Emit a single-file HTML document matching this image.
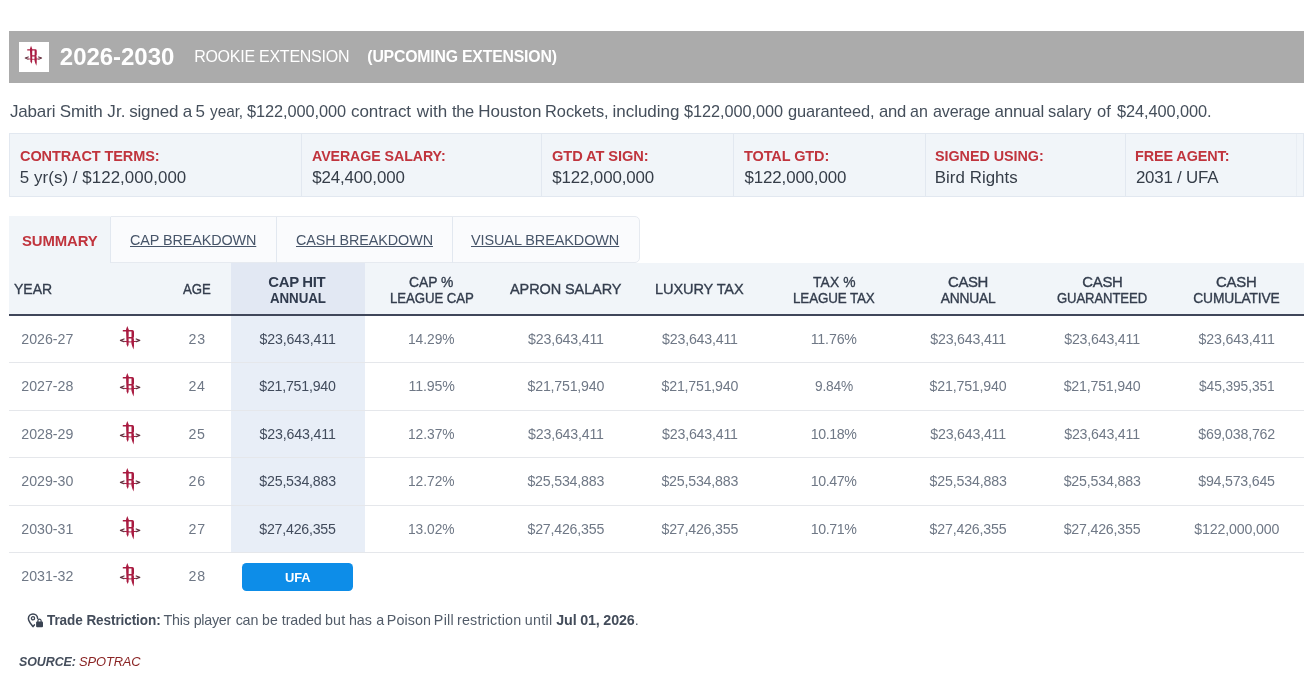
<!DOCTYPE html>
<html lang="en"><head><meta charset="utf-8"><title>Jabari Smith Jr. Contract Details</title>
<style>
*{box-sizing:border-box;margin:0;padding:0}
html,body{width:1314px;height:688px;background:#fff;overflow:hidden}
body{font-family:"Liberation Sans",sans-serif;position:relative}
.t{position:absolute;white-space:nowrap;line-height:1;transform-origin:0 0}
.a{position:absolute}
.lg{position:absolute;overflow:visible}
.bar{left:9px;top:31px;width:1295px;height:52px;background:#ababab}
.lbox{left:19px;top:42px;width:30px;height:30px;background:#fff}
.info{left:9px;top:133px;width:1295px;height:64px;background:#f1f5f9;border:1px solid #e2e8f0}
.sep{top:134px;width:1px;height:62px;background:#e2e8f0}
.tabs{left:9px;top:216px;width:631px;height:47px;border:1px solid #e6eaf0;border-radius:0 5px 5px 0;background:#fafbfd}
.tab1{left:9px;top:216px;width:102px;height:47px;background:#f1f5f9}
.tsep{top:217px;width:1px;height:46px;background:#e2e8f0}
.th{left:9px;top:263px;width:1295px;height:51px;background:#f1f5f9}
.thb{left:9px;top:314px;width:1295px;height:2px;background:#40475a}
.caphd{left:231px;top:263px;width:134px;height:51px;background:#e2e8f3}
.capbd{left:231px;top:316px;width:134px;height:237px;background:#e8eef7}
.rl{left:9px;width:1295px;height:1px;background:#e5e7eb}
.ufa{left:242px;top:563px;width:111px;height:28px;background:#0d8de8;border-radius:4.5px}
.wrap{position:absolute;left:0;top:0;width:1314px;height:688px;will-change:transform}

</style></head><body>
<div class="wrap">
<div class="a bar"></div><div class="a lbox"></div>
<div class="a info"></div>
<div class="a sep" style="left:301px"></div><div class="a sep" style="left:541px"></div><div class="a sep" style="left:733px"></div><div class="a sep" style="left:925px"></div><div class="a sep" style="left:1125px"></div>
<div class="a sep" style="left:1296px;background:#e9eef4"></div>
<div class="a tabs"></div><div class="a tab1"></div>
<div class="a tsep" style="left:110px"></div><div class="a tsep" style="left:276px"></div><div class="a tsep" style="left:452px"></div>
<div class="a th"></div><div class="a caphd"></div><div class="a capbd"></div><div class="a thb"></div>
<div class="a rl" style="top:362px"></div><div class="a rl" style="top:410px"></div><div class="a rl" style="top:457px"></div><div class="a rl" style="top:505px"></div><div class="a rl" style="top:552px"></div>
<div class="a ufa"></div>

<svg class="lg" style="left:24.2px;top:45.3px;width:18.7px;height:22.1px" viewBox="0 0 22 26"><g fill="#a91b41"><path d="M8.3 1 L9.7 4.6 L9.6 19.4 L8.7 22 L7.6 19.4 L7 4.6 Z"/><path d="M3.8 5 H13.3 Q15 5 15 6.7 V11.5 Q15 13.1 13.6 13.3 L14.9 13.3 L15 20.8 L14.5 24.4 L13.3 21.4 L12.4 18.6 V13.4 H9.2 V12 H12.5 V6.4 H3.8 Z"/></g><g fill="none" stroke-linecap="round" stroke-linejoin="round"><path d="M5.3 16.4 Q11 17.6 16.9 16.4" stroke="#a91b41" stroke-width="1"/><path d="M5 14 L1.5 15.4 L4.8 16.7" stroke="#63303f" stroke-width="1.25"/><path d="M17.2 14 L20.7 15.4 L17.4 16.7" stroke="#63303f" stroke-width="1.25"/></g>
</svg>
<svg class="lg" style="left:119px;top:325.0px;width:22px;height:26px" viewBox="0 0 22 26"><g fill="#a91b41"><path d="M8.3 1 L9.7 4.6 L9.6 19.4 L8.7 22 L7.6 19.4 L7 4.6 Z"/><path d="M3.8 5 H13.3 Q15 5 15 6.7 V11.5 Q15 13.1 13.6 13.3 L14.9 13.3 L15 20.8 L14.5 24.4 L13.3 21.4 L12.4 18.6 V13.4 H9.2 V12 H12.5 V6.4 H3.8 Z"/></g><g fill="none" stroke-linecap="round" stroke-linejoin="round"><path d="M5.3 16.4 Q11 17.6 16.9 16.4" stroke="#a91b41" stroke-width="1"/><path d="M5 14 L1.5 15.4 L4.8 16.7" stroke="#63303f" stroke-width="1.25"/><path d="M17.2 14 L20.7 15.4 L17.4 16.7" stroke="#63303f" stroke-width="1.25"/></g>
</svg>
<svg class="lg" style="left:119px;top:372.4px;width:22px;height:26px" viewBox="0 0 22 26"><g fill="#a91b41"><path d="M8.3 1 L9.7 4.6 L9.6 19.4 L8.7 22 L7.6 19.4 L7 4.6 Z"/><path d="M3.8 5 H13.3 Q15 5 15 6.7 V11.5 Q15 13.1 13.6 13.3 L14.9 13.3 L15 20.8 L14.5 24.4 L13.3 21.4 L12.4 18.6 V13.4 H9.2 V12 H12.5 V6.4 H3.8 Z"/></g><g fill="none" stroke-linecap="round" stroke-linejoin="round"><path d="M5.3 16.4 Q11 17.6 16.9 16.4" stroke="#a91b41" stroke-width="1"/><path d="M5 14 L1.5 15.4 L4.8 16.7" stroke="#63303f" stroke-width="1.25"/><path d="M17.2 14 L20.7 15.4 L17.4 16.7" stroke="#63303f" stroke-width="1.25"/></g>
</svg>
<svg class="lg" style="left:119px;top:419.9px;width:22px;height:26px" viewBox="0 0 22 26"><g fill="#a91b41"><path d="M8.3 1 L9.7 4.6 L9.6 19.4 L8.7 22 L7.6 19.4 L7 4.6 Z"/><path d="M3.8 5 H13.3 Q15 5 15 6.7 V11.5 Q15 13.1 13.6 13.3 L14.9 13.3 L15 20.8 L14.5 24.4 L13.3 21.4 L12.4 18.6 V13.4 H9.2 V12 H12.5 V6.4 H3.8 Z"/></g><g fill="none" stroke-linecap="round" stroke-linejoin="round"><path d="M5.3 16.4 Q11 17.6 16.9 16.4" stroke="#a91b41" stroke-width="1"/><path d="M5 14 L1.5 15.4 L4.8 16.7" stroke="#63303f" stroke-width="1.25"/><path d="M17.2 14 L20.7 15.4 L17.4 16.7" stroke="#63303f" stroke-width="1.25"/></g>
</svg>
<svg class="lg" style="left:119px;top:467.4px;width:22px;height:26px" viewBox="0 0 22 26"><g fill="#a91b41"><path d="M8.3 1 L9.7 4.6 L9.6 19.4 L8.7 22 L7.6 19.4 L7 4.6 Z"/><path d="M3.8 5 H13.3 Q15 5 15 6.7 V11.5 Q15 13.1 13.6 13.3 L14.9 13.3 L15 20.8 L14.5 24.4 L13.3 21.4 L12.4 18.6 V13.4 H9.2 V12 H12.5 V6.4 H3.8 Z"/></g><g fill="none" stroke-linecap="round" stroke-linejoin="round"><path d="M5.3 16.4 Q11 17.6 16.9 16.4" stroke="#a91b41" stroke-width="1"/><path d="M5 14 L1.5 15.4 L4.8 16.7" stroke="#63303f" stroke-width="1.25"/><path d="M17.2 14 L20.7 15.4 L17.4 16.7" stroke="#63303f" stroke-width="1.25"/></g>
</svg>
<svg class="lg" style="left:119px;top:514.8px;width:22px;height:26px" viewBox="0 0 22 26"><g fill="#a91b41"><path d="M8.3 1 L9.7 4.6 L9.6 19.4 L8.7 22 L7.6 19.4 L7 4.6 Z"/><path d="M3.8 5 H13.3 Q15 5 15 6.7 V11.5 Q15 13.1 13.6 13.3 L14.9 13.3 L15 20.8 L14.5 24.4 L13.3 21.4 L12.4 18.6 V13.4 H9.2 V12 H12.5 V6.4 H3.8 Z"/></g><g fill="none" stroke-linecap="round" stroke-linejoin="round"><path d="M5.3 16.4 Q11 17.6 16.9 16.4" stroke="#a91b41" stroke-width="1"/><path d="M5 14 L1.5 15.4 L4.8 16.7" stroke="#63303f" stroke-width="1.25"/><path d="M17.2 14 L20.7 15.4 L17.4 16.7" stroke="#63303f" stroke-width="1.25"/></g>
</svg>
<svg class="lg" style="left:119px;top:562.2px;width:22px;height:26px" viewBox="0 0 22 26"><g fill="#a91b41"><path d="M8.3 1 L9.7 4.6 L9.6 19.4 L8.7 22 L7.6 19.4 L7 4.6 Z"/><path d="M3.8 5 H13.3 Q15 5 15 6.7 V11.5 Q15 13.1 13.6 13.3 L14.9 13.3 L15 20.8 L14.5 24.4 L13.3 21.4 L12.4 18.6 V13.4 H9.2 V12 H12.5 V6.4 H3.8 Z"/></g><g fill="none" stroke-linecap="round" stroke-linejoin="round"><path d="M5.3 16.4 Q11 17.6 16.9 16.4" stroke="#a91b41" stroke-width="1"/><path d="M5 14 L1.5 15.4 L4.8 16.7" stroke="#63303f" stroke-width="1.25"/><path d="M17.2 14 L20.7 15.4 L17.4 16.7" stroke="#63303f" stroke-width="1.25"/></g>
</svg>
<svg class="lg" style="left:27.2px;top:612.5px;width:16px;height:15px" viewBox="0 0 16 15"><g fill="none" stroke="#3b4453" stroke-linecap="round" stroke-linejoin="round"><path d="M10.6 5.6 C10.6 3 8.6 1 6 1 C3.4 1 1.4 3 1.4 5.6 C1.4 8.6 4 11 6 13.6 L7.4 11.9" stroke-width="1.5"/><circle cx="6" cy="5.3" r="1.6" stroke-width="1.3"/><path d="M10.9 9 V7.7 a1.6 1.6 0 0 1 3.2 0 V9" stroke-width="1.2"/></g><rect x="9.1" y="8.6" width="6.9" height="5.7" rx="1" fill="#3b4453"/></svg>

<header class="bartext">
<span class="t" style="left:59.87px;top:45px;font-size:24px;color:#fff;font-weight:700;letter-spacing:-0.042px;">2026-2030</span>
<span class="t" style="left:194.13px;top:49px;font-size:16px;color:#fff;letter-spacing:-0.254px;">ROOKIE EXTENSION</span>
<span class="t" style="left:367.30px;top:49px;font-size:15.8px;color:#fff;font-weight:700;letter-spacing:-0.182px;">(UPCOMING EXTENSION)</span>
</header>
<p class="desc">
<span class="t" style="left:9.89px;top:103px;font-size:17px;color:#454f5b;letter-spacing:-0.145px;">Jabari</span>
<span class="t" style="left:59.67px;top:103px;font-size:17px;color:#454f5b;letter-spacing:-0.086px;">Smith</span>
<span class="t" style="left:107.28px;top:103px;font-size:17px;color:#454f5b;letter-spacing:0.118px;">Jr.</span>
<span class="t" style="left:129.13px;top:103px;font-size:17px;color:#454f5b;letter-spacing:-0.156px;">signed</span>
<span class="t" style="left:182.81px;top:103px;font-size:17px;color:#454f5b;">a</span>
<span class="t" style="left:195.61px;top:103px;font-size:17px;color:#454f5b;">5</span>
<span class="t" style="left:209.85px;top:103px;font-size:17px;color:#454f5b;letter-spacing:-0.052px;transform:scaleX(0.904);">year,</span>
<span class="t" style="left:247.18px;top:103px;font-size:17px;color:#454f5b;letter-spacing:-0.089px;transform:scaleX(0.962);">$122,000,000</span>
<span class="t" style="left:350.98px;top:103px;font-size:17px;color:#454f5b;letter-spacing:-0.051px;">contract</span>
<span class="t" style="left:416.87px;top:103px;font-size:17px;color:#454f5b;">with</span>
<span class="t" style="left:451.69px;top:103px;font-size:17px;color:#454f5b;letter-spacing:-0.315px;transform:scaleX(0.968);">the</span>
<span class="t" style="left:478.19px;top:103px;font-size:17px;color:#454f5b;">Houston</span>
<span class="t" style="left:545.27px;top:103px;font-size:17px;color:#454f5b;letter-spacing:-0.008px;transform:scaleX(0.963);">Rockets,</span>
<span class="t" style="left:612.61px;top:103px;font-size:17px;color:#454f5b;letter-spacing:-0.045px;">including</span>
<span class="t" style="left:684.40px;top:103px;font-size:17px;color:#454f5b;letter-spacing:-0.056px;transform:scaleX(0.958);">$122,000,000</span>
<span class="t" style="left:787.69px;top:103px;font-size:17px;color:#454f5b;letter-spacing:-0.128px;transform:scaleX(0.967);">guaranteed,</span>
<span class="t" style="left:878.63px;top:103px;font-size:17px;color:#454f5b;letter-spacing:-0.249px;transform:scaleX(0.978);">and</span>
<span class="t" style="left:910.46px;top:103px;font-size:17px;color:#454f5b;letter-spacing:-0.015px;transform:scaleX(0.942);">an</span>
<span class="t" style="left:932.82px;top:103px;font-size:17px;color:#454f5b;letter-spacing:-0.177px;transform:scaleX(0.949);">average</span>
<span class="t" style="left:994.54px;top:103px;font-size:17px;color:#454f5b;letter-spacing:-0.280px;">annual</span>
<span class="t" style="left:1047.92px;top:103px;font-size:17px;color:#454f5b;letter-spacing:-0.101px;transform:scaleX(0.971);">salary</span>
<span class="t" style="left:1097.32px;top:103px;font-size:17px;color:#454f5b;letter-spacing:-0.046px;transform:scaleX(0.974);">of</span>
<span class="t" style="left:1116.80px;top:103px;font-size:17px;color:#454f5b;letter-spacing:-0.103px;transform:scaleX(0.963);">$24,400,000.</span>
</p>
<section class="infotext">
<span class="t" style="left:19.90px;top:148px;font-size:15.1px;color:#c0343d;font-weight:700;letter-spacing:-0.115px;transform:scaleX(0.962);">CONTRACT TERMS:</span>
<span class="t" style="left:19.85px;top:170px;font-size:16.9px;color:#353d48;letter-spacing:0.055px;">5 yr(s) / $122,000,000</span>
<span class="t" style="left:311.73px;top:148px;font-size:15.1px;color:#c0343d;font-weight:700;letter-spacing:-0.077px;transform:scaleX(0.941);">AVERAGE SALARY:</span>
<span class="t" style="left:312.23px;top:170px;font-size:16.9px;color:#353d48;letter-spacing:-0.135px;">$24,400,000</span>
<span class="t" style="left:551.83px;top:148px;font-size:15.1px;color:#c0343d;font-weight:700;letter-spacing:-0.082px;transform:scaleX(0.969);">GTD AT SIGN:</span>
<span class="t" style="left:552.17px;top:170px;font-size:16.9px;color:#353d48;letter-spacing:-0.112px;">$122,000,000</span>
<span class="t" style="left:743.92px;top:148px;font-size:15.1px;color:#c0343d;font-weight:700;letter-spacing:-0.097px;transform:scaleX(0.960);">TOTAL GTD:</span>
<span class="t" style="left:744.62px;top:170px;font-size:16.9px;color:#353d48;letter-spacing:-0.149px;">$122,000,000</span>
<span class="t" style="left:935.46px;top:148px;font-size:15.1px;color:#c0343d;font-weight:700;letter-spacing:-0.040px;transform:scaleX(0.950);">SIGNED USING:</span>
<span class="t" style="left:934.81px;top:170px;font-size:16.9px;color:#353d48;letter-spacing:0.029px;">Bird Rights</span>
<span class="t" style="left:1134.96px;top:148px;font-size:15.1px;color:#c0343d;font-weight:700;letter-spacing:-0.099px;transform:scaleX(0.953);">FREE AGENT:</span>
<span class="t" style="left:1135.90px;top:170px;font-size:16.9px;color:#353d48;letter-spacing:-0.219px;">2031 / UFA</span>
</section>
<nav class="tabtext">
<span class="t" style="left:22.37px;top:233px;font-size:15.4px;color:#c0343d;font-weight:700;letter-spacing:-0.116px;transform:scaleX(0.967);">SUMMARY</span>
<span class="t" style="left:129.81px;top:232px;font-size:15.2px;color:#475569;letter-spacing:-0.108px;transform:scaleX(0.947);text-decoration:underline;text-decoration-thickness:1px;text-underline-offset:1px;">CAP BREAKDOWN</span>
<span class="t" style="left:295.67px;top:232px;font-size:15.2px;color:#475569;letter-spacing:-0.073px;transform:scaleX(0.945);text-decoration:underline;text-decoration-thickness:1px;text-underline-offset:1px;">CASH BREAKDOWN</span>
<span class="t" style="left:471.34px;top:232px;font-size:15.2px;color:#475569;letter-spacing:-0.100px;transform:scaleX(0.952);text-decoration:underline;text-decoration-thickness:1px;text-underline-offset:1px;">VISUAL BREAKDOWN</span>
</nav>
<div class="tabletext">
<span class="t" style="left:13.68px;top:282px;font-size:14.9px;color:#333d4d;letter-spacing:0.018px;transform:scaleX(0.942);-webkit-text-stroke:0.35px #333d4d;">YEAR</span>
<span class="t" style="left:182.99px;top:282px;font-size:14.9px;color:#333d4d;letter-spacing:-0.017px;transform:scaleX(0.887);-webkit-text-stroke:0.35px #333d4d;">AGE</span>
<span class="t" style="left:268.37px;top:275px;font-size:14.9px;color:#2f3a4d;font-weight:700;letter-spacing:-0.341px;">CAP HIT</span>
<span class="t" style="left:269.63px;top:291px;font-size:14.1px;color:#2f3a4d;font-weight:700;letter-spacing:-0.086px;transform:scaleX(0.947);">ANNUAL</span>
<span class="t" style="left:409.32px;top:275px;font-size:14.9px;color:#333d4d;letter-spacing:-0.065px;transform:scaleX(0.932);-webkit-text-stroke:0.35px #333d4d;">CAP %</span>
<span class="t" style="left:389.70px;top:292px;font-size:13.8px;color:#333d4d;letter-spacing:-0.086px;transform:scaleX(0.959);-webkit-text-stroke:0.35px #333d4d;">LEAGUE CAP</span>
<span class="t" style="left:509.96px;top:282px;font-size:14.9px;color:#333d4d;letter-spacing:-0.095px;transform:scaleX(0.973);-webkit-text-stroke:0.35px #333d4d;">APRON SALARY</span>
<span class="t" style="left:655.40px;top:282px;font-size:14.9px;color:#333d4d;letter-spacing:-0.094px;transform:scaleX(0.977);-webkit-text-stroke:0.35px #333d4d;">LUXURY TAX</span>
<span class="t" style="left:813.18px;top:275px;font-size:14.9px;color:#333d4d;letter-spacing:0.132px;transform:scaleX(0.929);-webkit-text-stroke:0.35px #333d4d;">TAX %</span>
<span class="t" style="left:792.53px;top:292px;font-size:13.8px;color:#333d4d;letter-spacing:-0.143px;transform:scaleX(0.973);-webkit-text-stroke:0.35px #333d4d;">LEAGUE TAX</span>
<span class="t" style="left:948.00px;top:275px;font-size:14.9px;color:#333d4d;letter-spacing:-0.372px;-webkit-text-stroke:0.35px #333d4d;">CASH</span>
<span class="t" style="left:940.85px;top:292px;font-size:13.8px;color:#333d4d;letter-spacing:-0.251px;-webkit-text-stroke:0.35px #333d4d;">ANNUAL</span>
<span class="t" style="left:1082.35px;top:275px;font-size:14.9px;color:#333d4d;letter-spacing:-0.289px;-webkit-text-stroke:0.35px #333d4d;">CASH</span>
<span class="t" style="left:1057.09px;top:292px;font-size:13.8px;color:#333d4d;letter-spacing:-0.110px;transform:scaleX(0.950);-webkit-text-stroke:0.35px #333d4d;">GUARANTEED</span>
<span class="t" style="left:1216.08px;top:275px;font-size:14.9px;color:#333d4d;letter-spacing:-0.225px;-webkit-text-stroke:0.35px #333d4d;">CASH</span>
<span class="t" style="left:1193.31px;top:292px;font-size:13.8px;color:#333d4d;letter-spacing:-0.163px;-webkit-text-stroke:0.35px #333d4d;">CUMULATIVE</span>
<span class="t" style="left:21.34px;top:332px;font-size:14.2px;color:#6f7886;letter-spacing:-0.021px;">2026-27</span>
<span class="t" style="left:188.59px;top:332px;font-size:14.2px;color:#6f7886;letter-spacing:0.854px;">23</span>
<span class="t" style="left:259.56px;top:332px;font-size:14.2px;color:#414b5c;letter-spacing:-0.156px;">$23,643,411</span>
<span class="t" style="left:408.38px;top:332px;font-size:14.2px;color:#6f7886;letter-spacing:-0.055px;transform:scaleX(0.973);">14.29%</span>
<span class="t" style="left:528.08px;top:332px;font-size:14.2px;color:#6f7886;letter-spacing:-0.194px;">$23,643,411</span>
<span class="t" style="left:662.08px;top:332px;font-size:14.2px;color:#6f7886;letter-spacing:-0.194px;">$23,643,411</span>
<span class="t" style="left:810.70px;top:332px;font-size:14.2px;color:#6f7886;letter-spacing:-0.154px;">11.76%</span>
<span class="t" style="left:930.25px;top:332px;font-size:14.2px;color:#6f7886;letter-spacing:-0.198px;">$23,643,411</span>
<span class="t" style="left:1064.21px;top:332px;font-size:14.2px;color:#6f7886;letter-spacing:-0.203px;">$23,643,411</span>
<span class="t" style="left:1198.62px;top:332px;font-size:14.2px;color:#6f7886;letter-spacing:-0.153px;">$23,643,411</span>
<span class="t" style="left:21.34px;top:379px;font-size:14.2px;color:#6f7886;letter-spacing:-0.019px;">2027-28</span>
<span class="t" style="left:188.59px;top:379px;font-size:14.2px;color:#6f7886;letter-spacing:0.628px;">24</span>
<span class="t" style="left:259.28px;top:379px;font-size:14.2px;color:#414b5c;letter-spacing:-0.229px;">$21,751,940</span>
<span class="t" style="left:408.58px;top:379px;font-size:14.2px;color:#6f7886;letter-spacing:-0.173px;">11.95%</span>
<span class="t" style="left:527.60px;top:379px;font-size:14.2px;color:#6f7886;letter-spacing:-0.222px;">$21,751,940</span>
<span class="t" style="left:661.60px;top:379px;font-size:14.2px;color:#6f7886;letter-spacing:-0.222px;">$21,751,940</span>
<span class="t" style="left:815.02px;top:379px;font-size:14.2px;color:#6f7886;letter-spacing:-0.225px;transform:scaleX(0.969);">9.84%</span>
<span class="t" style="left:929.62px;top:379px;font-size:14.2px;color:#6f7886;letter-spacing:-0.197px;">$21,751,940</span>
<span class="t" style="left:1063.66px;top:379px;font-size:14.2px;color:#6f7886;letter-spacing:-0.197px;">$21,751,940</span>
<span class="t" style="left:1198.91px;top:379px;font-size:14.2px;color:#6f7886;letter-spacing:-0.089px;transform:scaleX(0.971);">$45,395,351</span>
<span class="t" style="left:21.34px;top:427px;font-size:14.2px;color:#6f7886;letter-spacing:-0.016px;">2028-29</span>
<span class="t" style="left:188.59px;top:427px;font-size:14.2px;color:#6f7886;letter-spacing:0.609px;">25</span>
<span class="t" style="left:259.56px;top:427px;font-size:14.2px;color:#414b5c;letter-spacing:-0.156px;">$23,643,411</span>
<span class="t" style="left:408.38px;top:427px;font-size:14.2px;color:#6f7886;letter-spacing:-0.055px;transform:scaleX(0.973);">12.37%</span>
<span class="t" style="left:528.08px;top:427px;font-size:14.2px;color:#6f7886;letter-spacing:-0.194px;">$23,643,411</span>
<span class="t" style="left:662.08px;top:427px;font-size:14.2px;color:#6f7886;letter-spacing:-0.194px;">$23,643,411</span>
<span class="t" style="left:810.70px;top:427px;font-size:14.2px;color:#6f7886;letter-spacing:-0.379px;">10.18%</span>
<span class="t" style="left:930.25px;top:427px;font-size:14.2px;color:#6f7886;letter-spacing:-0.198px;">$23,643,411</span>
<span class="t" style="left:1064.21px;top:427px;font-size:14.2px;color:#6f7886;letter-spacing:-0.203px;">$23,643,411</span>
<span class="t" style="left:1198.26px;top:427px;font-size:14.2px;color:#6f7886;letter-spacing:-0.200px;">$69,038,762</span>
<span class="t" style="left:21.25px;top:474px;font-size:14.2px;color:#6f7886;letter-spacing:-0.005px;">2029-30</span>
<span class="t" style="left:188.59px;top:474px;font-size:14.2px;color:#6f7886;letter-spacing:0.883px;">26</span>
<span class="t" style="left:259.37px;top:474px;font-size:14.2px;color:#414b5c;letter-spacing:-0.217px;">$25,534,883</span>
<span class="t" style="left:408.38px;top:474px;font-size:14.2px;color:#6f7886;letter-spacing:-0.055px;transform:scaleX(0.973);">12.72%</span>
<span class="t" style="left:527.45px;top:474px;font-size:14.2px;color:#6f7886;letter-spacing:-0.206px;">$25,534,883</span>
<span class="t" style="left:661.45px;top:474px;font-size:14.2px;color:#6f7886;letter-spacing:-0.206px;">$25,534,883</span>
<span class="t" style="left:810.70px;top:474px;font-size:14.2px;color:#6f7886;letter-spacing:-0.379px;">10.47%</span>
<span class="t" style="left:929.62px;top:474px;font-size:14.2px;color:#6f7886;letter-spacing:-0.162px;">$25,534,883</span>
<span class="t" style="left:1063.66px;top:474px;font-size:14.2px;color:#6f7886;letter-spacing:-0.176px;">$25,534,883</span>
<span class="t" style="left:1198.26px;top:474px;font-size:14.2px;color:#6f7886;letter-spacing:-0.220px;">$94,573,645</span>
<span class="t" style="left:21.34px;top:522px;font-size:14.2px;color:#6f7886;letter-spacing:-0.021px;">2030-31</span>
<span class="t" style="left:188.59px;top:522px;font-size:14.2px;color:#6f7886;letter-spacing:0.777px;">27</span>
<span class="t" style="left:259.28px;top:522px;font-size:14.2px;color:#414b5c;letter-spacing:-0.227px;">$27,426,355</span>
<span class="t" style="left:408.38px;top:522px;font-size:14.2px;color:#6f7886;letter-spacing:-0.055px;transform:scaleX(0.973);">13.02%</span>
<span class="t" style="left:527.46px;top:522px;font-size:14.2px;color:#6f7886;letter-spacing:-0.207px;">$27,426,355</span>
<span class="t" style="left:661.46px;top:522px;font-size:14.2px;color:#6f7886;letter-spacing:-0.207px;">$27,426,355</span>
<span class="t" style="left:810.70px;top:522px;font-size:14.2px;color:#6f7886;letter-spacing:-0.379px;">10.71%</span>
<span class="t" style="left:929.62px;top:522px;font-size:14.2px;color:#6f7886;letter-spacing:-0.191px;">$27,426,355</span>
<span class="t" style="left:1063.66px;top:522px;font-size:14.2px;color:#6f7886;letter-spacing:-0.201px;">$27,426,355</span>
<span class="t" style="left:1194.17px;top:522px;font-size:14.2px;color:#6f7886;letter-spacing:-0.148px;">$122,000,000</span>
<span class="t" style="left:21.34px;top:569px;font-size:14.2px;color:#6f7886;letter-spacing:-0.021px;">2031-32</span>
<span class="t" style="left:188.59px;top:569px;font-size:14.2px;color:#6f7886;letter-spacing:0.679px;">28</span>
<span class="t" style="left:284.73px;top:571px;font-size:13.4px;color:#fff;font-weight:700;letter-spacing:-0.125px;transform:scaleX(0.965);">UFA</span>
</div>
<p class="note">
<span class="t" style="left:46.56px;top:613px;font-size:14.3px;color:#434c5a;font-weight:700;letter-spacing:-0.089px;transform:scaleX(0.947);">Trade Restriction:</span>
<span class="t" style="left:163.39px;top:613px;font-size:14.3px;color:#525c69;letter-spacing:-0.130px;">This</span>
<span class="t" style="left:193.68px;top:613px;font-size:14.3px;color:#525c69;letter-spacing:-0.261px;">player</span>
<span class="t" style="left:235.63px;top:613px;font-size:14.3px;color:#525c69;letter-spacing:-0.173px;">can</span>
<span class="t" style="left:261.54px;top:613px;font-size:14.3px;color:#525c69;letter-spacing:0.254px;transform:scaleX(0.981);">be</span>
<span class="t" style="left:281.81px;top:613px;font-size:14.3px;color:#525c69;letter-spacing:-0.112px;">traded</span>
<span class="t" style="left:325.08px;top:613px;font-size:14.3px;color:#525c69;letter-spacing:0.073px;">but</span>
<span class="t" style="left:348.89px;top:613px;font-size:14.3px;color:#525c69;letter-spacing:-0.045px;">has</span>
<span class="t" style="left:376.16px;top:613px;font-size:14.3px;color:#525c69;">a</span>
<span class="t" style="left:386.78px;top:613px;font-size:14.3px;color:#525c69;letter-spacing:0.077px;">Poison</span>
<span class="t" style="left:433.87px;top:613px;font-size:14.3px;color:#525c69;letter-spacing:0.268px;">Pill</span>
<span class="t" style="left:456.93px;top:613px;font-size:14.3px;color:#525c69;letter-spacing:0.237px;">restriction</span>
<span class="t" style="left:524.67px;top:613px;font-size:14.3px;color:#525c69;letter-spacing:0.311px;">until</span>
<span class="t" style="left:556.32px;top:613px;font-size:14.3px;color:#434c5a;font-weight:700;letter-spacing:-0.177px;">Jul 01, 2026</span>
<span class="t" style="left:634.80px;top:613px;font-size:14.3px;color:#525c69;">.</span>
</p>
<p class="source">
<span class="t" style="left:18.93px;top:655px;font-size:13.5px;color:#454e5c;font-weight:700;letter-spacing:-0.072px;transform:scaleX(0.921);font-style:italic;">SOURCE:</span>
<span class="t" style="left:78.87px;top:655px;font-size:13.5px;color:#8a2424;letter-spacing:-0.120px;transform:scaleX(0.955);font-style:italic;">SPOTRAC</span>
</p>
</div>
</body></html>
